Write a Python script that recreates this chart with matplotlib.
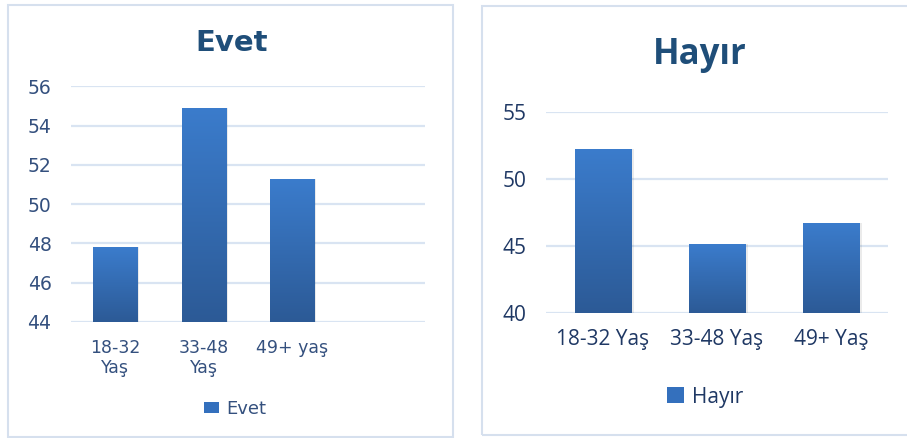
import numpy as np
import matplotlib
matplotlib.use("Agg")
import matplotlib.pyplot as plt
import matplotlib.patches
from matplotlib.colors import LinearSegmentedColormap

# data
evet_labels = ["18-32\nYaş", "33-48\nYaş", "49+ yaş"]
evet_values = [47.8, 54.9, 51.3]
evet_ticks = [44, 46, 48, 50, 52, 54, 56]

hayir_labels = ["18-32 Yaş", "33-48 Yaş", "49+ Yaş"]
hayir_values = [52.2, 45.1, 46.7]
hayir_ticks = [40, 45, 50, 55]

grad = LinearSegmentedColormap.from_list("bar", ["#2c5a96", "#3b7ccc"])
grid_color = "#d9e4f2"
border_color = "#d6e0ee"


def gradient_bars(ax, values, base, width=0.5):
    bars = ax.bar(range(len(values)), [v - base for v in values], bottom=base,
                  width=width, color="#3470bd", zorder=3)
    g = np.linspace(0, 1, 256).reshape(-1, 1)
    for b in bars:
        x0, y0 = b.get_x(), b.get_y()
        x1, y1 = x0 + b.get_width(), y0 + b.get_height()
        # soft shadow
        ax.add_patch(matplotlib.patches.Rectangle((x0 + 0.02, y0), b.get_width(), b.get_height(),
                                                  facecolor="#000000", alpha=0.08, zorder=2, lw=0))
        im = ax.imshow(g, extent=[x0, x1, y0, y1], origin="lower", cmap=grad,
                       aspect="auto", zorder=4)
        im.set_clip_path(b)
    return bars


def style_axes(ax, ticks, tick_color, fs, family):
    ax.set_yticks(ticks)
    ax.set_ylim(ticks[0], ticks[-1])
    for s in ax.spines.values():
        s.set_visible(False)
    ax.grid(axis="y", color=grid_color, lw=1.6, zorder=0)
    ax.set_axisbelow(True)
    ax.tick_params(length=0, colors=tick_color, labelsize=fs)
    for t in ax.get_yticklabels() + ax.get_xticklabels():
        t.set_family(family)


fig = plt.figure(figsize=(9.07, 4.38), dpi=100)
fig.patch.set_facecolor("white")

# panel borders
fig.add_artist(matplotlib.patches.Rectangle((8 / 907, 1 / 438), 445 / 907, 432 / 438,
                                            transform=fig.transFigure, fill=False,
                                            edgecolor=border_color, lw=1.5))
fig.add_artist(matplotlib.patches.Rectangle((482 / 907, 3 / 438), 430 / 907, 429 / 438,
                                            transform=fig.transFigure, fill=False,
                                            edgecolor=border_color, lw=1.5))

# Evet
ax1 = fig.add_axes([71 / 907, 1 - 322 / 438, 354 / 907, 235.7 / 438])
b1 = gradient_bars(ax1, evet_values, evet_ticks[0])
ax1.set_xlim(-0.5, 3.5)
ax1.set_xticks(range(len(evet_labels)))
ax1.set_xticklabels(evet_labels, linespacing=1.15)
style_axes(ax1, evet_ticks, "#34507e", 12.5, "DejaVu Sans")
ax1.tick_params(axis="y", labelsize=13.5, pad=14)
ax1.tick_params(axis="x", pad=12)
fig.text(232 / 907, 1 - 43 / 438, "Evet", ha="center", va="center", fontsize=21,
         fontweight="bold", color="#1f4e79", family="DejaVu Sans")
leg1 = ax1.legend([b1[0]], ["Evet"], loc="center", bbox_to_anchor=(235 / 907, 1 - 409 / 438),
                  bbox_transform=fig.transFigure, frameon=False, handlelength=0.8,
                  handleheight=0.6, handletextpad=0.4,
                  prop={"family": "DejaVu Sans", "size": 13})
for t in leg1.get_texts():
    t.set_color("#34507e")

# Hayır
ax2 = fig.add_axes([546 / 907, 1 - 312.7 / 438, 342 / 907, 200.7 / 438])
b2 = gradient_bars(ax2, hayir_values, hayir_ticks[0])
ax2.set_xlim(-0.5, 2.5)
ax2.set_xticks(range(len(hayir_labels)))
ax2.set_xticklabels(hayir_labels)
style_axes(ax2, hayir_ticks, "#1f3864", 15, "Open Sans")
ax2.tick_params(axis="y", pad=14)
ax2.tick_params(axis="x", pad=12)
fig.text(700 / 907, 1 - 55 / 438, "Hayır", ha="center", va="center", fontsize=25,
         fontweight="bold", color="#1f4e79", family="Open Sans")
leg2 = ax2.legend([b2[0]], ["Hayır"], loc="center", bbox_to_anchor=(705 / 907, 1 - 397 / 438),
                  bbox_transform=fig.transFigure, frameon=False, handlelength=0.8,
                  handleheight=0.8, handletextpad=0.4,
                  prop={"family": "Open Sans", "size": 15})
for t in leg2.get_texts():
    t.set_color("#1f3864")

fig.savefig("out.png", dpi=100)
